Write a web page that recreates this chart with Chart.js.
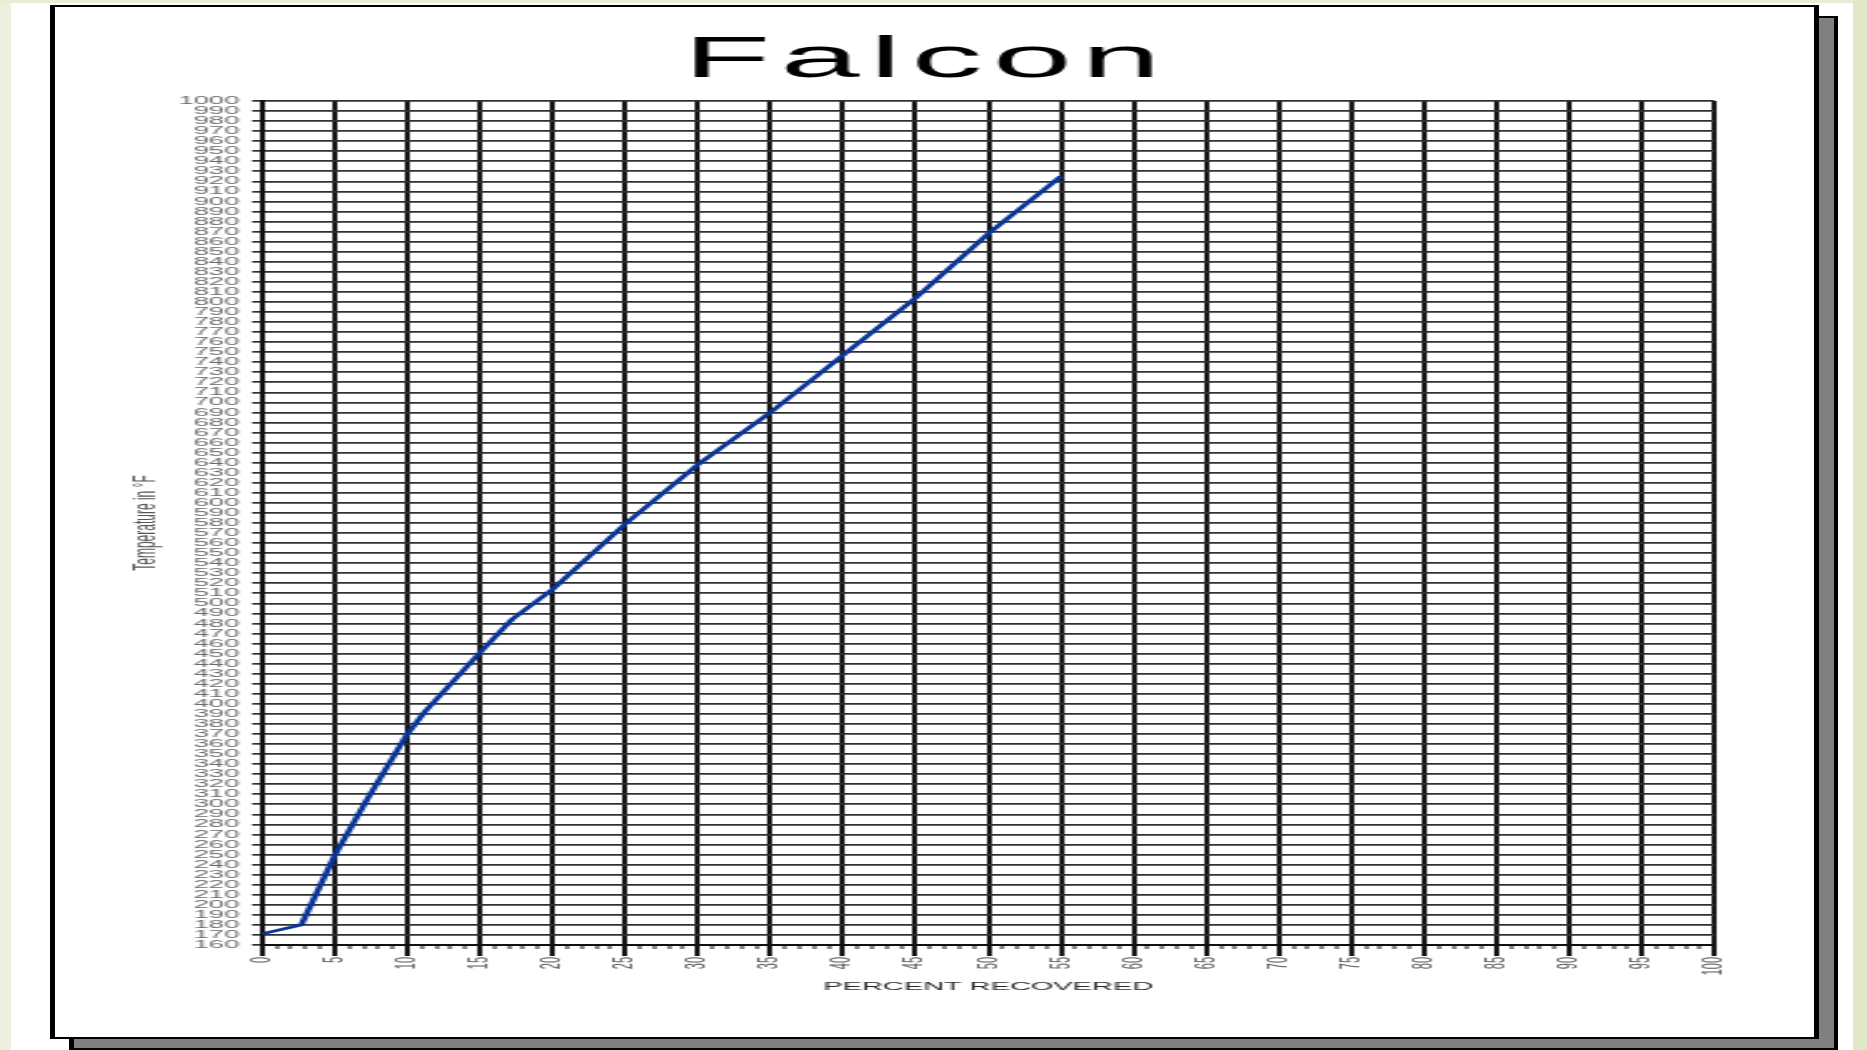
<!DOCTYPE html>
<html>
<head>
<meta charset="utf-8">
<script src="https://cdn.jsdelivr.net/npm/chart.js@4.4.1/dist/chart.umd.min.js"></script>
<style>
html,body{margin:0;padding:0;width:1867px;height:1050px;overflow:hidden;background:#e0e8c8;}
#leftstrip{position:absolute;left:0;top:0;width:11px;height:1050px;background:#edf0df;}
#topstrip{position:absolute;left:0;top:0;width:1853px;height:3px;background:#e9edd7;}
#slide{position:absolute;left:11px;top:3px;width:1842px;height:1047px;background:#fff;}
#shadow{position:absolute;left:69px;top:16px;width:1769px;height:1034px;box-sizing:border-box;background:#808080;border-style:solid;border-color:#000;border-width:2px 4px 2px 5px;}
#frame{position:absolute;left:50px;top:5px;width:1769px;height:1034px;box-sizing:border-box;background:#fff;border-style:solid;border-color:#000;border-width:2px 5px 2px 5px;}
</style>
</head>
<body>
<div id="leftstrip"></div>
<div id="topstrip"></div>
<div id="slide"></div>
<div id="shadow"></div>
<div id="frame"></div>
<canvas id="c" width="704" height="1030" style="position:absolute;left:55px;top:7px;width:1759px;height:1030px;"></canvas>
<script>
// ---- data ----
const chartTitle = "Falcon";
const xAxisTitle = "PERCENT RECOVERED";
const yAxisTitle = "Temperature in °F";
const percentRecovered = [0, 2.7, 5, 7.2, 10, 11.2, 15, 17.2, 20, 25, 30, 35, 40, 45, 50, 55];
const temperatureF   = [171, 180, 249, 304, 370, 392, 451, 484, 514, 579, 638, 690, 747, 804, 868, 925];
const xTickLabels = [0, 5, 10, 15, 20, 25, 30, 35, 40, 45, 50, 55, 60, 65, 70, 75, 80, 85, 90, 95, 100];
const xMin = 0, xMax = 100, xMinorStep = 1;
const yMin = 160, yMax = 1000, yStep = 10;

const isMajorX = v => xTickLabels.includes(Math.round(v * 1000) / 1000);
const FONT = "'Liberation Sans', Arial, sans-serif";

const points = percentRecovered.map((x, i) => ({x: x, y: temperatureF[i]}));

const cv = document.getElementById('c');
const chart = new Chart(cv, {
  type: 'line',
  data: {
    datasets: [{
      label: chartTitle,
      data: points,
      borderColor: '#0a3597',
      borderWidth: 2.6,
      pointRadius: 0,
      tension: 0,
      fill: false
    }]
  },
  options: {
    responsive: false,
    animation: false,
    devicePixelRatio: 1,
    layout: { padding: { left: 29.8, right: 39.8, top: 0, bottom: 0 } },
    plugins: {
      legend: { display: false },
      tooltip: { enabled: false },
      title: {
        display: true,
        text: chartTitle,
        color: '#000',
        font: { family: FONT, size: 57, weight: 'normal', lineHeight: 1.2 },
        padding: { top: 20, bottom: 5.6 }
      }
    },
    scales: {
      x: {
        type: 'linear',
        position: 'bottom',
        min: xMin,
        max: xMax,
        afterFit: s => { s.height = 92; },
        ticks: {
          stepSize: xMinorStep,
          maxTicksLimit: 1000,
          autoSkip: false,
          minRotation: 90,
          maxRotation: 90,
          padding: 1,
          color: '#5a5a5a',
          font: { family: FONT, size: 11 },
          callback: v => isMajorX(v) ? String(v) : ''
        },
        grid: {
          color: c => isMajorX(c.tick.value) ? '#141414' : 'rgba(0,0,0,0)',
          lineWidth: 2,
          tickLength: 11,
          tickColor: c => isMajorX(c.tick.value) ? '#141414' : '#555',
          tickWidth: c => isMajorX(c.tick.value) ? 2 : 1.4,
          tickBorderDash: c => isMajorX(c.tick.value) ? [] : [3, 40]
        },
        border: { display: true, color: '#111', width: 2 },
        title: {
          display: true,
          text: xAxisTitle,
          color: '#2a2a2a',
          font: { family: FONT, size: 11.6 },
          padding: { top: 0, bottom: 43 }
        }
      },
      y: {
        type: 'linear',
        min: yMin,
        max: yMax,
        afterFit: s => { s.width = 53.05; },
        ticks: {
          stepSize: yStep,
          maxTicksLimit: 1000,
          autoSkip: false,
          padding: 5,
          color: '#6a6a6a',
          font: { family: FONT, size: 11 },
          callback: v => String(v)
        },
        grid: {
          color: '#303030',
          lineWidth: 1.7,
          tickLength: 4,
          tickColor: '#303030'
        },
        border: { display: true, color: '#111', width: 2 },
        title: {
          display: true,
          text: yAxisTitle,
          color: '#555',
          font: { family: FONT, size: 12 },
          padding: { top: 0, bottom: 0 }
        }
      }
    }
  }
});

// the title of the original picture is drawn with wider letter spacing
const tb = chart.titleBlock;
if (tb) {
  const origDraw = tb.draw.bind(tb);
  tb.draw = function (area) {
    const ctx = this.ctx;
    ctx.save();
    ctx.letterSpacing = '4px';
    ctx.translate(2, 0);
    origDraw(area);
    ctx.restore();
  };
  chart.draw();
}
// keep the horizontally stretched display size of the original picture
cv.style.width = '1759px';
cv.style.height = '1030px';
</script>
</body>
</html>
